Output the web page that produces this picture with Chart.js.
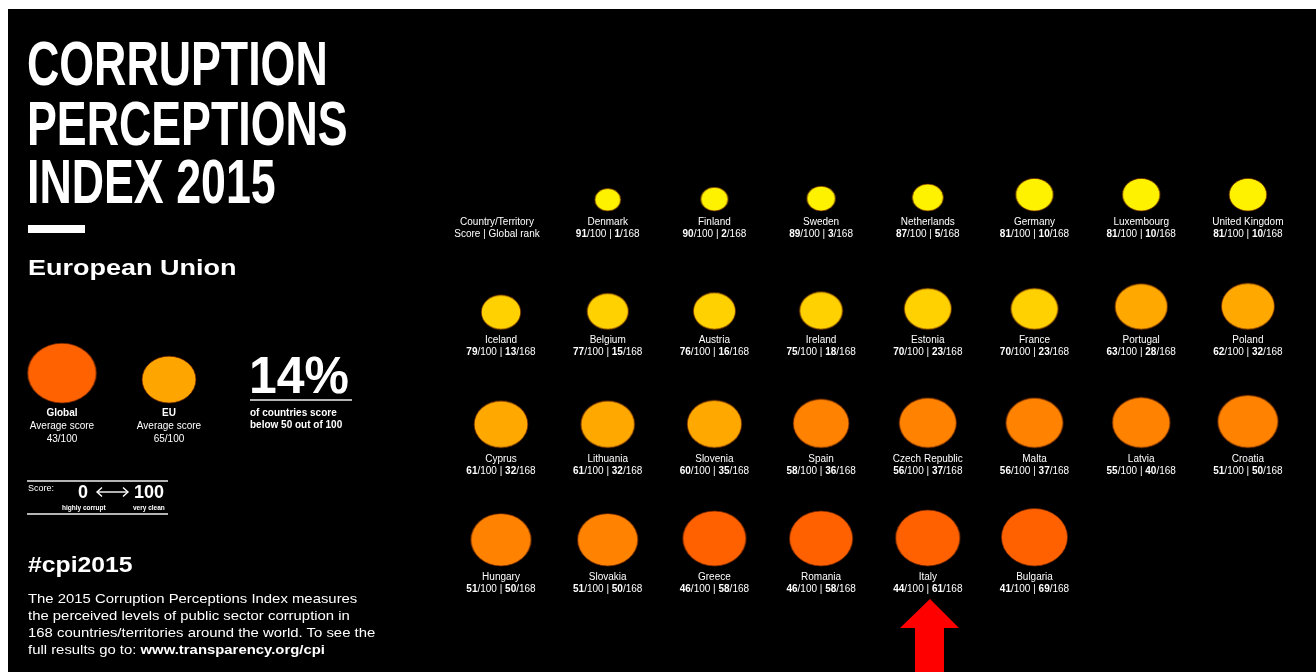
<!DOCTYPE html>
<html>
<head>
<meta charset="utf-8">
<title>Corruption Perceptions Index 2015 - European Union</title>
<script src="https://cdn.jsdelivr.net/npm/chart.js@4.4.1/dist/chart.umd.min.js"></script>
<style>
  html, body { margin:0; padding:0; background:#fff; width:1316px; height:672px; overflow:hidden;
    font-family:"Liberation Sans", Arial, sans-serif; color:#fff; }
  #panel { position:absolute; left:8px; top:9px; right:0; bottom:0; background:#000; }
  #grid { position:absolute; left:0; top:0; }
  #avg { position:absolute; left:0; top:330px; }
  .t { position:absolute; white-space:nowrap; transform-origin:0 0; }
  .title { left:27px; font-family:"Liberation Sans", Arial, sans-serif; font-weight:bold;
    font-size:63px; line-height:63px; transform:scaleX(0.71); }
  .hline { position:absolute; background:#b4b4b4; height:2px; }
</style>
</head>
<body>
<div id="panel"></div>
<canvas id="grid" width="1316" height="672"></canvas>
<canvas id="avg" width="240" height="120"></canvas>

<div class="t title" style="top:32px">CORRUPTION</div>
<div class="t title" style="top:92px">PERCEPTIONS</div>
<div class="t title" style="top:150px">INDEX 2015</div>
<div style="position:absolute;left:28px;top:225px;width:57px;height:8px;background:#fff"></div>
<div class="t" style="left:28px;top:257px;font-size:22.5px;line-height:22.5px;font-weight:bold;transform:scaleX(1.2)">European Union</div>

<div class="t" style="left:249px;top:349px;font-size:52px;line-height:52px;font-weight:bold;transform:scaleX(0.96)">14%</div>
<div class="hline" style="left:250px;top:399px;width:102px"></div>
<div class="t" style="left:250px;top:407px;font-size:10px;line-height:12px;font-weight:bold">of countries score<br>below 50 out of 100</div>

<div class="hline" style="left:27px;top:480px;width:141px"></div>
<div class="t" style="left:28px;top:484px;font-size:9px;line-height:9px">Score:</div>
<div class="t" style="left:78px;top:483px;font-size:18px;line-height:18px;font-weight:bold">0</div>
<svg style="position:absolute;left:94px;top:486px" width="38" height="12">
  <line x1="3" y1="6" x2="34" y2="6" stroke="#fff" stroke-width="1.4"/>
  <polyline points="8,1.5 3,6 8,10.5" fill="none" stroke="#fff" stroke-width="1.4"/>
  <polyline points="29,1.5 34,6 29,10.5" fill="none" stroke="#fff" stroke-width="1.4"/>
</svg>
<div class="t" style="left:134px;top:483px;font-size:18px;line-height:18px;font-weight:bold">100</div>
<div class="t" style="left:62px;top:505px;font-size:6.5px;line-height:6.5px;font-weight:bold">highly corrupt</div>
<div class="t" style="left:133px;top:505px;font-size:6.5px;line-height:6.5px;font-weight:bold">very clean</div>
<div class="hline" style="left:27px;top:513px;width:141px"></div>

<div class="t" style="left:28px;top:554px;font-size:22.5px;line-height:22.5px;font-weight:bold;transform:scaleX(1.1)">#cpi2015</div>
<div class="t" style="left:28px;top:590px;font-size:13px;line-height:17px;transform:scaleX(1.145)">The 2015 Corruption Perceptions Index measures<br>the perceived levels of public sector corruption in<br>168 countries/territories around the world. To see the<br>full results go to: <b>www.transparency.org/cpi</b></div>

<svg style="position:absolute;left:0;top:0" width="1316" height="672">
  <polygon points="930,599 959,628 944,628 944,672 915,672 915,628 900,628" fill="#ff0000"/>
</svg>

<script>
// countries in reading order of the grid (slot 0 holds the column header)
const countries = ['Denmark', 'Finland', 'Sweden', 'Netherlands', 'Germany', 'Luxembourg', 'United Kingdom',
  'Iceland', 'Belgium', 'Austria', 'Ireland', 'Estonia', 'France', 'Portugal', 'Poland',
  'Cyprus', 'Lithuania', 'Slovenia', 'Spain', 'Czech Republic', 'Malta', 'Latvia', 'Croatia',
  'Hungary', 'Slovakia', 'Greece', 'Romania', 'Italy', 'Bulgaria'];
const scores = [91, 90, 89, 87, 81, 81, 81,
  79, 77, 76, 75, 70, 70, 63, 62,
  61, 61, 60, 58, 56, 56, 55, 51,
  51, 51, 46, 46, 44, 41];
const ranks = [1, 2, 3, 5, 10, 10, 10,
  13, 15, 16, 18, 23, 23, 28, 32,
  32, 32, 35, 36, 37, 37, 40, 50,
  50, 50, 58, 58, 61, 69];
const avgLabels = ['Global', 'EU'];
const avgScores = [43, 65];
const TOTAL = 168;
const PER_ROW = 8;

function scoreColor(s) {
  if (s >= 80) return '#fff200';
  if (s >= 70) return '#ffd100';
  if (s >= 60) return '#ffa900';
  if (s >= 50) return '#ff8300';
  return '#ff6100';
}

// bubble drawn as a slightly wide oval, its bottom sitting on the data point
function blob(score, color, k) {
  const rx = k * Math.sqrt(100 - score), ry = rx * 0.87;
  const c = document.createElement('canvas');
  const half = Math.ceil(ry * 2 + 2);
  c.width = Math.ceil(rx * 2 + 4);
  c.height = half * 2;
  const g = c.getContext('2d');
  g.fillStyle = color;
  g.strokeStyle = 'rgba(110,35,0,0.7)';
  g.lineWidth = 1;
  g.beginPath();
  g.ellipse(c.width / 2, half - ry, rx, ry, 0, 0, Math.PI * 2);
  g.fill();
  g.stroke();
  return c;
}

function scoreLine(ctx, cx, y, score, rank) {
  const parts = [[String(score), 1], ['/100 | ', 0], [String(rank), 1], ['/' + TOTAL, 0]];
  const font = b => (b ? 'bold ' : '') + '10px "Liberation Sans", Arial, sans-serif';
  let w = 0;
  parts.forEach(p => { ctx.font = font(p[1]); w += ctx.measureText(p[0]).width; });
  let x = cx - w / 2;
  ctx.textAlign = 'left';
  parts.forEach(p => { ctx.font = font(p[1]); ctx.fillText(p[0], x, y); x += ctx.measureText(p[0]).width; });
}

const gridLabels = {
  id: 'gridLabels',
  afterDatasetsDraw(chart) {
    const ctx = chart.ctx;
    ctx.save();
    ctx.fillStyle = '#fff';
    ctx.textBaseline = 'alphabetic';
    chart.getDatasetMeta(0).data.forEach((pt, i) => {
      ctx.textAlign = 'center';
      ctx.font = '10px "Liberation Sans", Arial, sans-serif';
      ctx.fillText(countries[i], pt.x, pt.y + 14);
      scoreLine(ctx, pt.x, pt.y + 26, scores[i], ranks[i]);
    });
    const hx = chart.scales.x.getPixelForValue(0) - 4;
    const hy = chart.scales.y.getPixelForValue(0);
    ctx.textAlign = 'center';
    ctx.font = '10px "Liberation Sans", Arial, sans-serif';
    ctx.fillText('Country/Territory', hx, hy + 14);
    ctx.fillText('Score | Global rank', hx, hy + 26);
    ctx.restore();
  }
};

new Chart(document.getElementById('grid'), {
  type: 'bubble',
  data: {
    datasets: [{
      data: countries.map((c, i) => ({
        x: (i + 1) % PER_ROW,
        y: Math.floor((i + 1) / PER_ROW),
        r: 4.3 * Math.sqrt(100 - scores[i])
      })),
      pointStyle: countries.map((c, i) => blob(scores[i], scoreColor(scores[i]), 4.3)),
      backgroundColor: scores.map(scoreColor),
      borderWidth: 0,
      clip: false
    }]
  },
  options: {
    responsive: false,
    animation: false,
    events: [],
    layout: { padding: 0, autoPadding: false },
    plugins: { legend: { display: false }, tooltip: { enabled: false } },
    scales: {
      x: { type: 'linear', display: false, min: -501 / 106.7, max: (1316 - 501) / 106.7 },
      y: { type: 'linear', display: false, reverse: true, min: -211 / 118.33, max: (672 - 211) / 118.33 }
    }
  },
  plugins: [gridLabels]
});

const avgText = {
  id: 'avgText',
  afterDatasetsDraw(chart) {
    const ctx = chart.ctx;
    ctx.save();
    ctx.fillStyle = '#fff';
    ctx.textAlign = 'center';
    chart.getDatasetMeta(0).data.forEach((pt, i) => {
      ctx.font = 'bold 10px "Liberation Sans", Arial, sans-serif';
      ctx.fillText(avgLabels[i], pt.x, pt.y + 12.5);
      ctx.font = '10px "Liberation Sans", Arial, sans-serif';
      ctx.fillText('Average score', pt.x, pt.y + 25.5);
      ctx.fillText(avgScores[i] + '/100', pt.x, pt.y + 38.5);
    });
    ctx.restore();
  }
};

new Chart(document.getElementById('avg'), {
  type: 'bubble',
  data: {
    datasets: [{
      data: avgScores.map((s, i) => ({ x: i, y: 0, r: 4.55 * Math.sqrt(100 - s) })),
      pointStyle: avgScores.map(s => blob(s, s < 50 ? '#ff6200' : '#ffa500', 4.55)),
      borderWidth: 0,
      clip: false
    }]
  },
  options: {
    responsive: false,
    animation: false,
    events: [],
    layout: { padding: 0, autoPadding: false },
    plugins: { legend: { display: false }, tooltip: { enabled: false } },
    scales: {
      x: { type: 'linear', display: false, min: -62 / 107, max: (240 - 62) / 107 },
      y: { type: 'linear', display: false, reverse: true, min: -0.73, max: 0.47 }
    }
  },
  plugins: [avgText]
});
</script>
</body>
</html>
